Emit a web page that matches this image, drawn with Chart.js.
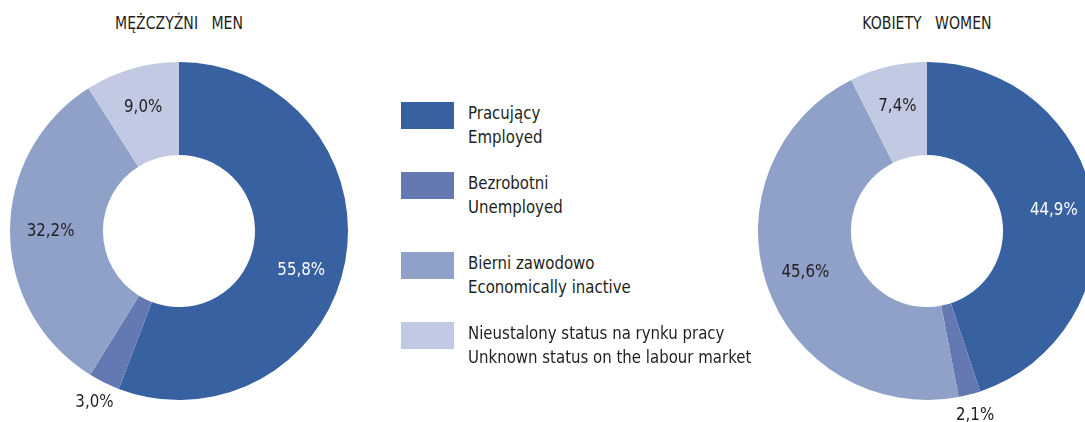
<!DOCTYPE html>
<html>
<head>
<meta charset="utf-8">
<script src="https://cdn.jsdelivr.net/npm/chart.js@4/dist/chart.umd.min.js"></script>
<style>
  html, body { margin: 0; padding: 0; background: #fff; }
  body { width: 1085px; height: 422px; overflow: hidden; position: relative;
         font-family: "DejaVu Sans Condensed", "Liberation Sans Narrow", sans-serif; color: #231f20; }
  canvas { position: absolute; top: 31px; }
  #men { left: 0; }
  #women { left: 748px; }
  .title { position: absolute; top: 13px; width: 358px; text-align: center; font-size: 17px; white-space: pre;
           transform: scaleX(0.92); }
  .legend-item { position: absolute; left: 401px; }
  .legend-item .box { position: absolute; left: 0; top: 0; width: 53px; height: 27px; }
  .legend-item .txt { position: absolute; left: 67px; top: -1px; font-size: 18px; line-height: 24px; white-space: nowrap;
                      transform: scaleX(0.925); transform-origin: left top; }
</style>
</head>
<body>
<div class="title" style="left:0">MĘŻCZYŹNI   MEN</div>
<div class="title" style="left:748px">KOBIETY   WOMEN</div>
<canvas id="men" width="358" height="400"></canvas>
<canvas id="women" width="358" height="400"></canvas>
<div id="legend"></div>
<script>
// dane
const categories = [
  ["Pracujący", "Employed"],
  ["Bezrobotni", "Unemployed"],
  ["Bierni zawodowo", "Economically inactive"],
  ["Nieustalony status na rynku pracy", "Unknown status on the labour market"]
];
const menValues = [55.8, 3.0, 32.2, 9.0];
const womenValues = [44.9, 2.1, 45.6, 7.4];
const colors = ["#3861a1", "#6479b2", "#8fa0c9", "#c1c9e3"];

const legendTops = [102, 172, 252, 322];

// etykiety procentowe na wycinkach
const pctLabels = {
  id: "pctLabels",
  afterDatasetsDraw(chart) {
    const ctx = chart.ctx;
    const meta = chart.getDatasetMeta(0);
    const values = chart.data.datasets[0].data;
    ctx.save();
    ctx.font = '18px "DejaVu Sans Condensed", sans-serif';
    ctx.textAlign = "center";
    ctx.textBaseline = "middle";
    meta.data.forEach((arc, i) => {
      const p = arc.getProps(["x", "y", "startAngle", "endAngle", "outerRadius"], true);
      let mid = (p.startAngle + p.endAngle) / 2;
      // największy wycinek - etykieta trochę niżej
      if (values[i] > 50) mid += 0.13;
      const r = values[i] < 5 ? p.outerRadius * 1.13 : p.outerRadius * 0.76;
      const tx = p.x + Math.cos(mid) * r;
      const ty = p.y + Math.sin(mid) * r;
      ctx.fillStyle = i === 0 ? "#ffffff" : "#231f20";
      ctx.save();
      ctx.translate(tx, ty);
      ctx.scale(0.93, 1);
      ctx.fillText(values[i].toFixed(1).replace(".", ",") + "%", 0, 0);
      ctx.restore();
    });
    ctx.restore();
  }
};

const makeChart = (id, values) => {
  const ctx = document.getElementById(id).getContext("2d");
  return new Chart(ctx, {
    type: "doughnut",
    data: {
      labels: categories.map(c => c.join(" ")),
      datasets: [{
        data: values,
        backgroundColor: colors,
        borderWidth: 0
      }]
    },
    options: {
      responsive: false,
      animation: false,
      cutout: "45%",
      layout: { padding: 10 },
      plugins: {
        legend: { display: false },
        tooltip: { enabled: false }
      }
    },
    plugins: [pctLabels]
  });
};

makeChart("men", menValues);
makeChart("women", womenValues);

// legenda
let legendHTML = "";
for (let i = 0; i < categories.length; i++) {
  legendHTML += `
    <div class="legend-item" style="top:${legendTops[i]}px">
      <div class="box" style="background:${colors[i]}"></div>
      <div class="txt">${categories[i][0]}<br>${categories[i][1]}</div>
    </div>
  `;
}
document.getElementById("legend").innerHTML = legendHTML;
</script>
</body>
</html>
